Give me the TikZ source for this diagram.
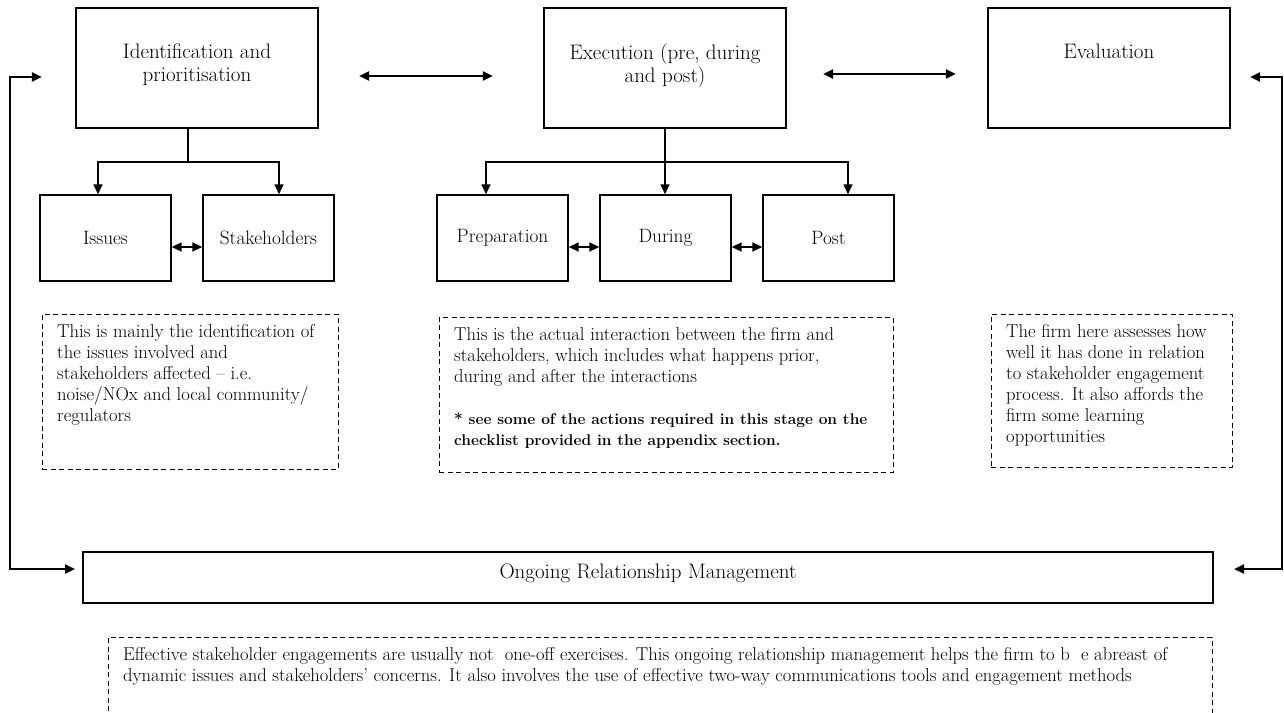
\documentclass[tikz,border=0pt]{standalone}
\usetikzlibrary{arrows.meta}
\newcommand\stagefont{\fontsize{21}{23}\selectfont}
\newcommand\partfont{\fontsize{19.3}{21}\selectfont}
\newcommand\notefont{\fontsize{18.6}{21}\selectfont}
\newcommand\boldnotefont{\fontsize{15.5}{22}\selectfont\bfseries}
\begin{document}
\begin{tikzpicture}[x=1pt,y=-1pt,
  >={Triangle[length=10pt,width=9pt]},
  stage/.style={draw,line width=2.4pt,minimum width=242pt,minimum height=120pt,inner sep=0pt},
  stagetext/.style={anchor=north,yshift=-37pt,align=center,inner sep=0pt,font=\stagefont},
  part/.style={draw,line width=1.4pt,minimum width=131pt,minimum height=86pt,font=\partfont},
  note/.style={draw,line width=0.9pt,dash pattern=on 5pt off 3.5pt,inner sep=0pt,anchor=north west},
  notetext/.style={anchor=north west,xshift=15pt,yshift=-10pt,align=left,inner sep=0pt,font=\notefont},
  branch/.style={line width=1.5pt},
  sidearrow/.style={line width=2pt},
  feedback/.style={line width=2.3pt}]
\useasboundingbox (0,0) rectangle (1284,712);
\clip (0,0) rectangle (1284,712);

\node[stage,label={[stagetext]north:Identification and\\prioritisation}] (ident) at (197,68) {};
\node[stage,label={[stagetext]north:{Execution (pre, during\\and post)}}] (exec) at (665,68) {};
\node[stage,label={[stagetext]north:Evaluation}] (eval) at (1109,68) {};

\node[part] (issues) at (105.5,238) {Issues};
\node[part] (stake) at (268.5,238) {Stakeholders};
\node[part] (prep) at (502.5,238) {Preparation};
\node[part] (during) at (665.5,238) {During};
\node[part] (post) at (828.5,238) {Post};

\node[draw,line width=2pt,minimum width=1130pt,minimum height=51pt,
  label={[font=\stagefont,yshift=4.5pt]center:Ongoing Relationship Management}] (ongoing) at (648,577.5) {};

\node[note,minimum width=296pt,minimum height=155pt,label={[notetext]north west:{This is mainly the identification of\\
the issues involved and\\
stakeholders affected -- i.e.\\
noise/NOx and local community/\\
regulators}}] (idnote) at (42,314) {};
\node[note,minimum width=454pt,minimum height=155pt,label={[notetext]north west:{This is the actual interaction between the firm and\\
stakeholders, which includes what happens prior,\\
during and after the interactions\\[21pt]
{\boldnotefont * see some of the actions required in this stage on the}\\
{\boldnotefont checklist provided in the appendix section.}}}] (execnote) at (439,317) {};
\node[note,minimum width=241pt,minimum height=153pt,label={[notetext]north west:{The firm here assesses how\\
well it has done in relation\\
to stakeholder engagement\\
process. It also affords the\\
firm some learning\\
opportunities}}] (evalnote) at (991,314) {};
\node[note,minimum width=1104pt,minimum height=120pt,label={[notetext]north west:{Effective stakeholder engagements are usually not\ \ one-off exercises. This ongoing relationship management helps the firm to b\ \ e abreast of\\
dynamic issues and stakeholders' concerns. It also involves the use of effective two-way communications tools and engagement methods}}] (ongoingnote) at (108,637) {};

\coordinate (identfork) at (188,162);
\draw[branch] ([xshift=-9pt]ident.south) -- (identfork);
\draw[branch,->] (identfork) -| ([xshift=-7.5pt]issues.north);
\draw[branch,->] (identfork) -| ([xshift=10.5pt]stake.north);

\coordinate (execfork) at (665,162);
\draw[branch,->] (exec.south) -- (during.north -| exec.south);
\draw[branch,->] (execfork) -| ([xshift=-16.5pt]prep.north);
\draw[branch,->] (execfork) -| ([xshift=19.5pt]post.north);

\foreach \a/\b in {issues/stake,prep/during,during/post}
  \draw[sidearrow,<->] ([yshift=-9pt]\a.east) -- ([yshift=-9pt]\b.west);

\draw[feedback,<->] ([shift={(40,8)}]ident.east) -- ([shift={(-50,8)}]exec.west);
\draw[feedback,<->] ([shift={(36,6)}]exec.east) -- ([shift={(-31,6)}]eval.west);

\draw[feedback,<->] ([shift={(-33,9)}]ident.west) -- ++(-32,0) |- ([shift={(-7,-8.5)}]ongoing.west);
\draw[feedback,<->] ([shift={(19,9)}]eval.east) -- ++(32,0) |- ([shift={(20,-8.5)}]ongoing.east);
\end{tikzpicture}
\end{document}
